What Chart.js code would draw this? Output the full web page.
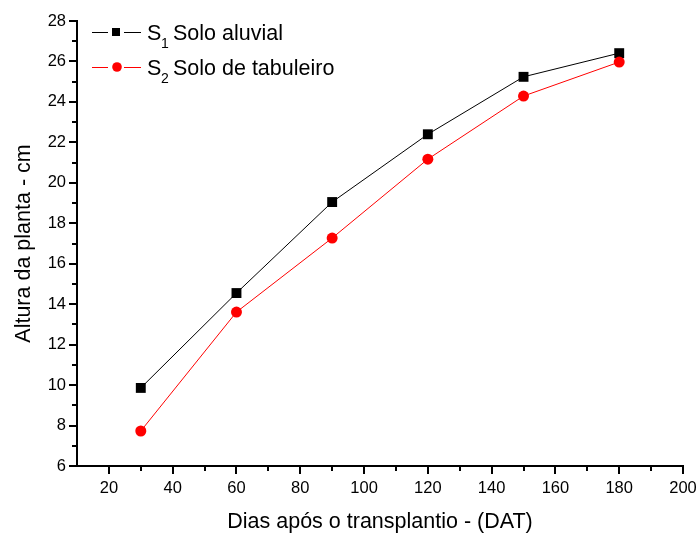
<!DOCTYPE html>
<html>
<head>
<meta charset="UTF-8">
<title>Altura da planta</title>
<style>
	html, body {margin: 0; padding: 0; background: #fff;}
	#wrap {width: 699px; height: 533px;}
</style>
</head>
<body>
	<div id="wrap"><canvas id="myChart" width="699" height="533"></canvas></div>
<script src="https://cdn.jsdelivr.net/npm/chart.js@4.4.0/dist/chart.umd.min.js"></script>
<script>
	// dados
	const dias = [30, 60, 90, 120, 150, 180];
	const soloAluvial = [9.86, 14.55, 19.05, 22.4, 25.24, 26.41];
	const soloTabuleiro = [7.73, 13.61, 17.27, 21.17, 24.29, 25.97];
	const xTicks = [20, 40, 60, 80, 100, 120, 140, 160, 180, 200];
	const xMinor = [30, 50, 70, 90, 110, 130, 150, 170, 190];
	const yTicks = [6, 8, 10, 12, 14, 16, 18, 20, 22, 24, 26, 28];
	const yMinor = [7, 9, 11, 13, 15, 17, 19, 21, 23, 25, 27];

	const FONT = 'Liberation Sans, Arial, sans-serif';

	// ticks menores + legenda dentro do grafico
	const extras = {
		id: 'extras',
		afterDraw(chart) {
			const ctx = chart.ctx;
			const xs = chart.scales.x, ys = chart.scales.y;
			const area = chart.chartArea;
			ctx.save();
			ctx.strokeStyle = '#000';
			ctx.lineWidth = 2;
			ctx.beginPath();
			xMinor.forEach(v => {
				const px = Math.round(xs.getPixelForValue(v));
				ctx.moveTo(px, area.bottom);
				ctx.lineTo(px, area.bottom + 5);
			});
			yMinor.forEach(v => {
				const py = Math.round(ys.getPixelForValue(v));
				ctx.moveTo(area.left, py);
				ctx.lineTo(area.left - 5, py);
			});
			ctx.stroke();

			// legenda
			const items = [
				{sub: '1', text: 'Solo aluvial', color: '#000', style: 'rect', y: 32},
				{sub: '2', text: 'Solo de tabuleiro', color: '#ff0000', style: 'circle', y: 67}
			];
			items.forEach(it => {
				ctx.strokeStyle = it.color;
				ctx.fillStyle = it.color;
				ctx.lineWidth = 1;
				ctx.beginPath();
				ctx.moveTo(92, it.y + 0.5); ctx.lineTo(108, it.y + 0.5);
				ctx.moveTo(124, it.y + 0.5); ctx.lineTo(141, it.y + 0.5);
				ctx.stroke();
				if (it.style === 'rect') {
					ctx.fillRect(112, it.y - 4, 8, 8);
				} else {
					ctx.beginPath();
					ctx.arc(117, it.y, 4.8, 0, Math.PI * 2);
					ctx.fill();
				}
				ctx.fillStyle = '#000';
				ctx.textBaseline = 'alphabetic';
				ctx.textAlign = 'left';
				ctx.font = '21.5px ' + FONT;
				ctx.fillText('S', 147, it.y + 8);
				ctx.font = '14px ' + FONT;
				ctx.fillText(it.sub, 161, it.y + 16);
				ctx.font = '21.5px ' + FONT;
				ctx.fillText(it.text, 173, it.y + 8);
			});
			ctx.restore();
		}
	};

	const ctx = document.getElementById('myChart');
	new Chart(ctx, {
		type: 'line',
		data: {
			datasets: [{
				label: 'S1 Solo aluvial',
				data: dias.map((d, i) => ({x: d, y: soloAluvial[i]})),
				borderColor: '#000',
				backgroundColor: '#000',
				borderWidth: 1,
				pointStyle: 'rect',
				pointRadius: 7,
				pointBorderWidth: 0,
				order: 1
			}, {
				label: 'S2 Solo de tabuleiro',
				data: dias.map((d, i) => ({x: d, y: soloTabuleiro[i]})),
				borderColor: '#ff0000',
				backgroundColor: '#ff0000',
				borderWidth: 1,
				pointStyle: 'circle',
				pointRadius: 5.5,
				pointBorderWidth: 0,
				order: 0
			}]
		},
		options: {
			responsive: false,
			animation: false,
			layout: {padding: {top: 21, right: 16, bottom: 0, left: 0}},
			plugins: {legend: {display: false}, tooltip: {enabled: false}},
			scales: {
				x: {
					type: 'linear',
					min: 10, max: 200,
					afterBuildTicks: s => { s.ticks = xTicks.map(v => ({value: v})); },
					afterFit: s => { s.height = 67; s.paddingRight = 0; },
					ticks: {color: '#000', font: {family: FONT, size: 16.5}, padding: 5, maxRotation: 0},
					grid: {drawOnChartArea: false, drawTicks: true, tickLength: 8, color: '#000', lineWidth: 2},
					border: {display: true, color: '#000', width: 2},
					title: {display: true, text: 'Dias após o transplantio - (DAT)', color: '#000',
						font: {family: FONT, size: 21.5, lineHeight: 1}, padding: {top: 0, bottom: 0}}
				},
				y: {
					type: 'linear',
					min: 6, max: 28,
					afterBuildTicks: s => { s.ticks = yTicks.map(v => ({value: v})); },
					afterFit: s => { s.width = 77; },
					ticks: {color: '#000', font: {family: FONT, size: 16.5}, padding: 3},
					grid: {drawOnChartArea: false, drawTicks: true, tickLength: 8, color: '#000', lineWidth: 2},
					border: {display: true, color: '#000', width: 2},
					title: {display: true, text: 'Altura da planta - cm', color: '#000',
						font: {family: FONT, size: 21.5, lineHeight: 1}, padding: {top: 13, bottom: 0}}
				}
			}
		},
		plugins: [extras]
	});
</script>
</body>
</html>
